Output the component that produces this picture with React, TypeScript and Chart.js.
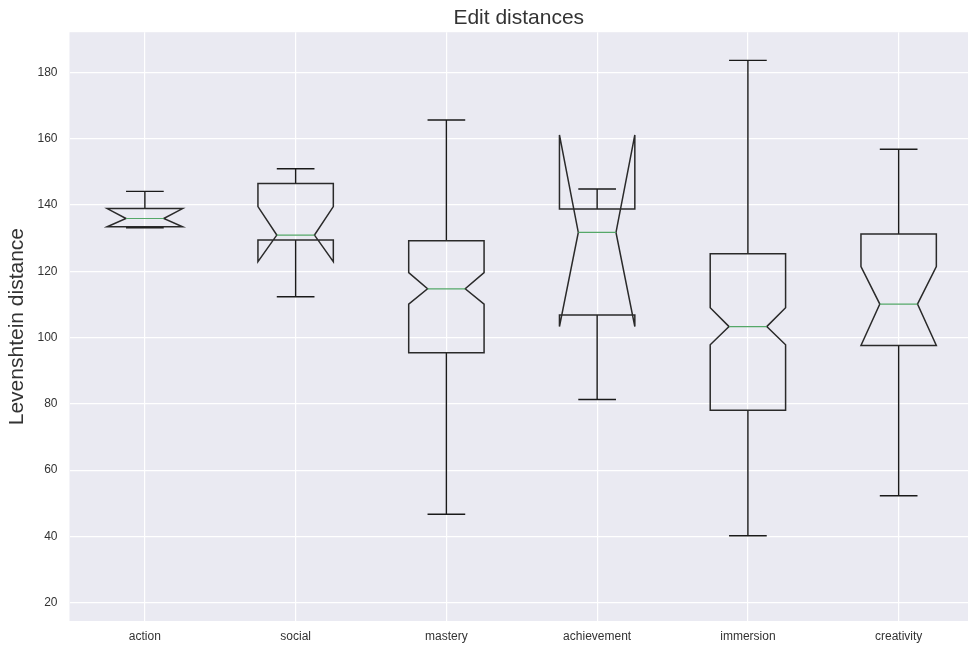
import React, { useEffect, useRef } from "react";
import { Chart, registerables } from "chart.js";

Chart.register(...registerables);

const categories = ["action", "social", "mastery", "achievement", "immersion", "creativity"];
const whiskerLow = [133.1, 112.3, 46.7, 81.3, 40.2, 52.3];
const q1 = [133.4, 129.4, 95.4, 106.8, 78.1, 97.6];
const notchLow = [133.4, 122.9, 110.1, 103.3, 97.8, 97.6];
const medians = [135.9, 130.9, 114.7, 131.7, 103.3, 110.1];
const notchHigh = [138.9, 139.5, 119.6, 161.1, 109.0, 121.4];
const q3 = [138.9, 146.5, 129.2, 138.8, 125.3, 131.2];
const whiskerHigh = [144.1, 150.9, 165.6, 144.8, 183.6, 156.8];
const yTicks = [20, 40, 60, 80, 100, 120, 140, 160, 180];

const FONT = "'Liberation Sans', Arial, sans-serif";

const plotBackground = {
  id: "plotBackground",
  beforeDraw(chart: any) {
    const { ctx, chartArea } = chart;
    ctx.save();
    ctx.fillStyle = "#EAEAF2";
    ctx.fillRect(chartArea.left, chartArea.top, chartArea.right - chartArea.left, chartArea.bottom - chartArea.top);
    ctx.restore();
  },
};

const boxPlot = {
  id: "boxPlot",
  afterDatasetsDraw(chart: any) {
    const { ctx } = chart;
    const xs = chart.scales.x;
    const ys = chart.scales.y;
    const boxW = 0.5;
    const capW = 0.25;
    const notchW = 0.25;
    ctx.save();
    ctx.lineJoin = "miter";
    categories.forEach((_, i) => {
      const pos = i + 1;
      const L = xs.getPixelForValue(pos - boxW / 2);
      const R = xs.getPixelForValue(pos + boxW / 2);
      const NL = xs.getPixelForValue(pos - notchW / 2);
      const NR = xs.getPixelForValue(pos + notchW / 2);
      const C = xs.getPixelForValue(pos);
      const CL = xs.getPixelForValue(pos - capW / 2);
      const CR = xs.getPixelForValue(pos + capW / 2);
      const yq1 = ys.getPixelForValue(q1[i]);
      const yq3 = ys.getPixelForValue(q3[i]);
      const ynl = ys.getPixelForValue(notchLow[i]);
      const ynh = ys.getPixelForValue(notchHigh[i]);
      const ymed = ys.getPixelForValue(medians[i]);
      const ywl = ys.getPixelForValue(whiskerLow[i]);
      const ywh = ys.getPixelForValue(whiskerHigh[i]);

      ctx.strokeStyle = "#1a1a1a";
      ctx.lineWidth = 1.4;
      // whiskers
      ctx.beginPath();
      ctx.moveTo(C, yq1);
      ctx.lineTo(C, ywl);
      ctx.moveTo(C, yq3);
      ctx.lineTo(C, ywh);
      ctx.stroke();
      // caps
      ctx.beginPath();
      ctx.moveTo(CL, ywl);
      ctx.lineTo(CR, ywl);
      ctx.moveTo(CL, ywh);
      ctx.lineTo(CR, ywh);
      ctx.stroke();
      // notched box
      ctx.strokeStyle = "#2a2a2a";
      ctx.lineWidth = 1.5;
      ctx.beginPath();
      ctx.moveTo(L, yq1);
      ctx.lineTo(L, ynl);
      ctx.lineTo(NL, ymed);
      ctx.lineTo(L, ynh);
      ctx.lineTo(L, yq3);
      ctx.lineTo(R, yq3);
      ctx.lineTo(R, ynh);
      ctx.lineTo(NR, ymed);
      ctx.lineTo(R, ynl);
      ctx.lineTo(R, yq1);
      ctx.closePath();
      ctx.stroke();
      // median
      ctx.strokeStyle = "#55A868";
      ctx.lineWidth = 1.2;
      ctx.beginPath();
      ctx.moveTo(NL, ymed);
      ctx.lineTo(NR, ymed);
      ctx.stroke();
    });
    ctx.restore();
  },
};

export default function App() {
  const ref = useRef<HTMLCanvasElement | null>(null);
  useEffect(() => {
    document.body.style.margin = "0";
    const canvas = ref.current;
    if (!canvas) return;
    const chart = new Chart(canvas, {
      type: "scatter",
      data: {
        datasets: [
          {
            label: "medians",
            data: medians.map((m, i) => ({ x: i + 1, y: m })),
            pointRadius: 0,
            pointHoverRadius: 0,
            showLine: false,
          },
        ],
      },
      options: {
        responsive: false,
        animation: false,
        events: [],
        layout: { padding: 0 },
        plugins: {
          legend: { display: false },
          tooltip: { enabled: false },
          title: {
            display: true,
            text: "Edit distances",
            color: "#333333",
            fullSize: false,
            font: { family: FONT, size: 21, weight: "normal", lineHeight: 1.2 },
            padding: { top: 6, bottom: 1 },
          },
        },
        scales: {
          x: {
            type: "linear",
            min: 0.5,
            max: 6.46,
            afterBuildTicks: (s: any) => {
              s.ticks = categories.map((_, i) => ({ value: i + 1 }));
            },
            afterFit: (s: any) => {
              s.height = 25;
            },
            grid: { color: "#FFFFFF", lineWidth: 1.2, drawTicks: false },
            border: { display: false },
            ticks: {
              autoSkip: false,
              maxRotation: 0,
              padding: 8,
              color: "#333333",
              font: { family: FONT, size: 12 },
              callback: (v: any) => categories[Math.round(v) - 1] ?? "",
            },
          },
          y: {
            type: "linear",
            min: 14.5,
            max: 192.1,
            afterBuildTicks: (s: any) => {
              s.ticks = yTicks.map((v) => ({ value: v }));
            },
            afterFit: (s: any) => {
              s.width = 69.5;
            },
            grid: { color: "#FFFFFF", lineWidth: 1.2, drawTicks: false },
            border: { display: false },
            title: {
              display: true,
              text: "Levenshtein distance",
              color: "#333333",
              font: { family: FONT, size: 21, lineHeight: 1.2 },
              padding: { top: 5, bottom: 0 },
            },
            ticks: {
              padding: 12,
              color: "#333333",
              font: { family: FONT, size: 12 },
              callback: (v: any) => String(v),
            },
          },
        },
      },
      plugins: [plotBackground, boxPlot],
    } as any);
    return () => chart.destroy();
  }, []);
  return (
    <div style={{ position: "fixed", left: 0, top: 0, width: 968, height: 646, background: "#fff" }}>
      <canvas ref={ref} width={968} height={646} style={{ display: "block" }} />
    </div>
  );
}
